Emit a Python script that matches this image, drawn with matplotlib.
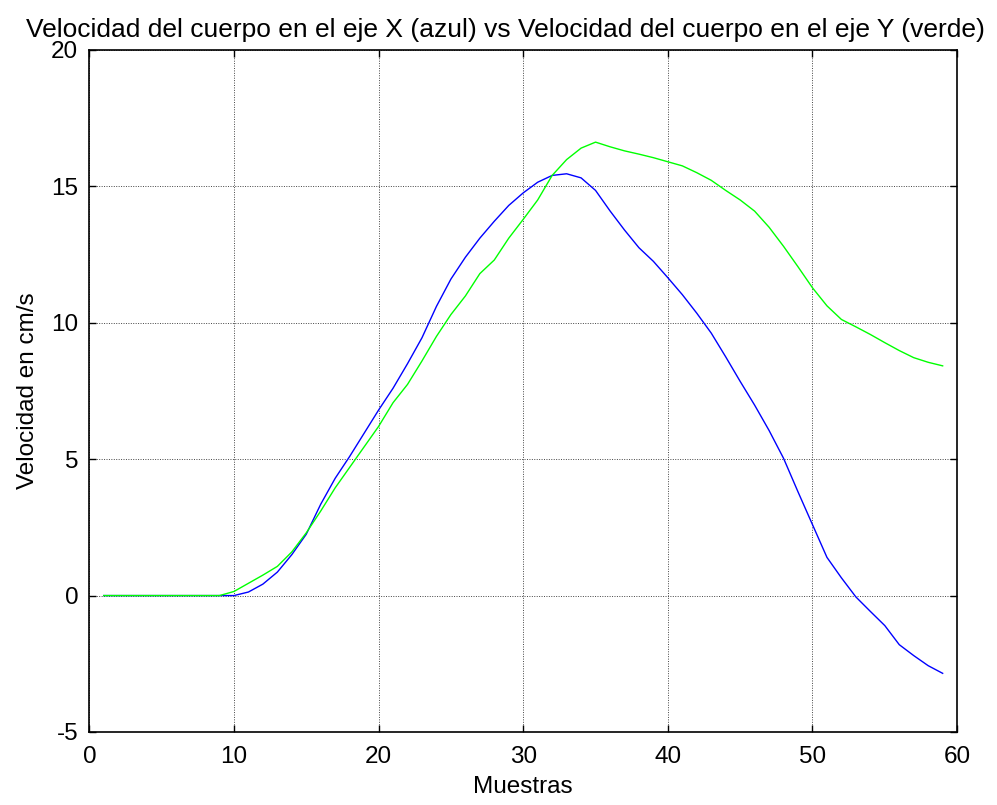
import matplotlib
matplotlib.use("Agg")
import matplotlib.pyplot as plt
import numpy as np

# Sample index (1..59)
muestras = np.arange(1, 60)

# Velocity along X (blue), cm/s
vel_x = [
    0, 0, 0, 0, 0, 0, 0, 0, 0,                      # 1-9
    0.0, 0.13, 0.42, 0.86, 1.5, 2.25, 3.35, 4.3, 5.1, 5.95,   # 10-19
    6.8, 7.6, 8.5, 9.45, 10.6, 11.6, 12.4, 13.1, 13.72, 14.3, # 20-29
    14.76, 15.15, 15.40, 15.46, 15.31, 14.85, 14.1, 13.4, 12.75, 12.25,  # 30-39
    11.65, 11.03, 10.35, 9.62, 8.75, 7.85, 6.98, 6.05, 5.03, 3.8,        # 40-49
    2.6, 1.4, 0.65, -0.05, -0.58, -1.1, -1.8, -2.2, -2.57, -2.85,        # 50-59
]

# Velocity along Y (green), cm/s
vel_y = [
    0, 0, 0, 0, 0, 0, 0, 0, 0,                      # 1-9
    0.15, 0.45, 0.75, 1.07, 1.6, 2.3, 3.1, 3.95, 4.7, 5.45,   # 10-19
    6.2, 7.07, 7.74, 8.6, 9.5, 10.3, 10.98, 11.8, 12.3, 13.1, # 20-29
    13.79, 14.5, 15.4, 15.98, 16.4, 16.62, 16.45, 16.3, 16.18, 16.05,    # 30-39
    15.9, 15.75, 15.5, 15.22, 14.85, 14.5, 14.09, 13.5, 12.8, 12.05,     # 40-49
    11.28, 10.62, 10.12, 9.85, 9.57, 9.27, 8.98, 8.72, 8.55, 8.42,       # 50-59
]

x_ticks = [0, 10, 20, 30, 40, 50, 60]
y_ticks = [-5, 0, 5, 10, 15, 20]

plt.rcParams['font.family'] = ['Liberation Sans', 'DejaVu Sans']
plt.rcParams['axes.unicode_minus'] = False

fig = plt.figure(figsize=(9.97, 8.05), dpi=100)
ax = fig.add_axes([0.0896, 0.0907, 0.8704, 0.8473])

ax.plot(muestras, vel_x, color='#0000FF', linewidth=1.0)
ax.plot(muestras, vel_y, color='#00FF00', linewidth=1.0)

ax.set_xlim(0, 60)
ax.set_ylim(-5, 20)
ax.set_xticks(x_ticks)
ax.set_yticks(y_ticks)

ax.grid(True, color='#444444', linestyle=(0, (1, 1.5)), linewidth=0.7)
ax.tick_params(direction='in', top=True, right=True, length=5, width=1,
               labelsize=17.5)
ax.tick_params(axis='x', pad=10)
ax.tick_params(axis='y', pad=8)
for s in ax.spines.values():
    s.set_linewidth(1.2)

ax.set_title('Velocidad del cuerpo en el eje X (azul) vs Velocidad del cuerpo en el eje Y (verde)',
             fontsize=19, pad=9, x=0.479)
ax.set_xlabel('Muestras', fontsize=17.5, labelpad=6)
ax.set_ylabel('Velocidad en cm/s', fontsize=17.5, labelpad=9)

fig.savefig('out.png', dpi=100)
